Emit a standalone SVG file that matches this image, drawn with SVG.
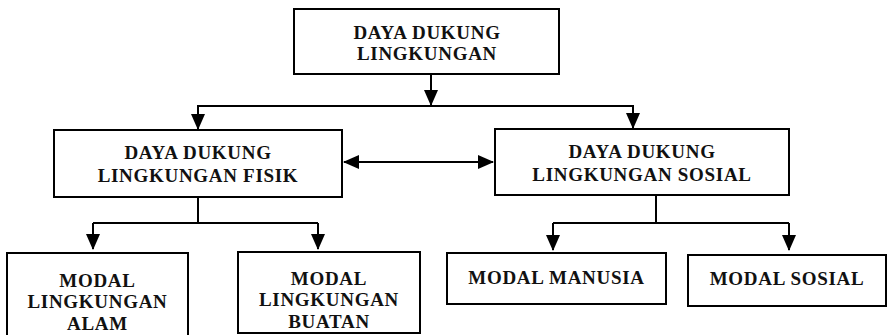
<svg xmlns="http://www.w3.org/2000/svg" width="888" height="335" viewBox="0 0 888 335">
<style>
.box{fill:#fff;stroke:#000;stroke-width:2}
.t{font-family:"Liberation Serif","Times New Roman",serif;font-weight:bold;font-size:19px;letter-spacing:0.7px;text-anchor:middle;fill:#111}
.c{fill:none;stroke:#000;stroke-width:2}
</style>
<defs>
<marker id="ah" markerUnits="userSpaceOnUse" markerWidth="16" markerHeight="14" refX="15" refY="7" orient="auto-start-reverse">
<path d="M0,0 L16,7 L0,14 Z" fill="#000"/>
</marker>
</defs>
<rect width="888" height="335" fill="#fff"/>
<g id="connectors">
<path class="c" d="M431,74 V105" marker-end="url(#ah)"/>
<path class="c" d="M198,130 V106 H633 V129" />
<path class="c" d="M198,106 V129" marker-end="url(#ah)"/>
<path class="c" d="M633,106 V128" marker-end="url(#ah)"/>
<path class="c" d="M344,162 H493" marker-start="url(#ah)" marker-end="url(#ah)"/>
<path class="c" d="M198,197 V223"/>
<path class="c" d="M93,223 H318"/>
<path class="c" d="M93,223 V249" marker-end="url(#ah)"/>
<path class="c" d="M318,223 V249" marker-end="url(#ah)"/>
<path class="c" d="M656,195 V223"/>
<path class="c" d="M553,223 H789"/>
<path class="c" d="M553,223 V250" marker-end="url(#ah)"/>
<path class="c" d="M789,223 V250" marker-end="url(#ah)"/>
</g>
<g id="n-top">
<rect class="box" x="294" y="9" width="265" height="65"/>
<text class="t" x="427" y="39">DAYA DUKUNG</text>
<text class="t" x="427" y="60">LINGKUNGAN</text>
</g>
<g id="n-fisik">
<rect class="box" x="54" y="130" width="288" height="67"/>
<text class="t" x="198" y="159">DAYA DUKUNG</text>
<text class="t" x="198" y="182">LINGKUNGAN FISIK</text>
</g>
<g id="n-sosial">
<rect class="box" x="495" y="129" width="294" height="66"/>
<text class="t" x="642" y="158">DAYA DUKUNG</text>
<text class="t" x="642" y="181">LINGKUNGAN SOSIAL</text>
</g>
<g id="n-alam">
<rect class="box" x="7" y="253" width="181" height="95"/>
<text class="t" x="97.5" y="287">MODAL</text>
<text class="t" x="97.5" y="308">LINGKUNGAN</text>
<text class="t" x="97.5" y="330">ALAM</text>
</g>
<g id="n-buatan">
<rect class="box" x="238" y="252" width="182" height="81"/>
<text class="t" x="329" y="285">MODAL</text>
<text class="t" x="329" y="306">LINGKUNGAN</text>
<text class="t" x="329" y="328">BUATAN</text>
</g>
<g id="n-manusia">
<rect class="box" x="447" y="253" width="219" height="51"/>
<text class="t" x="556.5" y="284">MODAL MANUSIA</text>
</g>
<g id="n-modalsosial">
<rect class="box" x="688" y="255" width="198" height="51"/>
<text class="t" x="787" y="285">MODAL SOSIAL</text>
</g>
</svg>
